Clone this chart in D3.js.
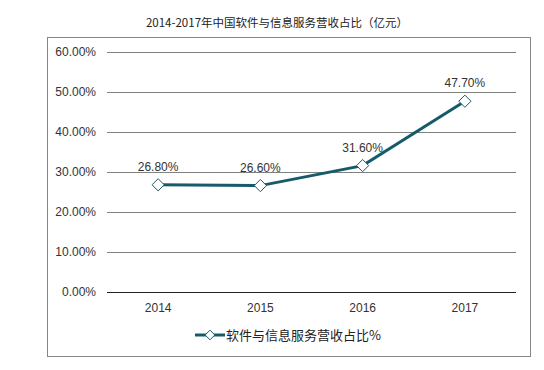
<!DOCTYPE html>
<html>
<head>
<meta charset="utf-8">
<script src="https://cdn.jsdelivr.net/npm/d3@7"></script>
<style>
html, body { margin: 0; padding: 0; background: #fff; }
svg { display: block; }
.tick text { font-family: "Liberation Sans", Arial, sans-serif; font-size: 12px; fill: #333; }
</style>
</head>
<body>
<script>
let years = ['2014', '2015', '2016', '2017'];
let shares = [26.8, 26.6, 31.6, 47.7];
let yTicks = [0, 10, 20, 30, 40, 50, 60];
let seriesName = '软件与信息服务营收占比%';
let title = '2014-2017年中国软件与信息服务营收占比（亿元）';

let width = 544, height = 370;
let margin = {top: 52, right: 28, bottom: 78, left: 107};
let lineColor = '#175b6b';

let svg = d3.select('body').append('svg').attr('width', width).attr('height', height);

// outer frame
svg.append('rect').attr('x', 47.5).attr('y', 37.5).attr('width', 483).attr('height', 319)
    .attr('fill', 'none').attr('stroke', '#868686').attr('stroke-width', 1);

svg.append('text').attr('x', 277).attr('y', 27).attr('text-anchor', 'middle')
    .style('font-family', '"Noto Sans CJK SC", sans-serif').style('font-size', '11.5px')
    .style('font-weight', 400).style('fill', '#222')
    .text(title);

let x = d3.scaleBand().domain(years).range([margin.left, width - margin.right]);
let y = d3.scaleLinear().domain([0, 60]).range([height - margin.bottom, margin.top]);

// gridlines
svg.append('g').selectAll('line').data(yTicks).enter().append('line')
    .attr('x1', margin.left).attr('x2', width - margin.right)
    .attr('y1', d => Math.round(y(d)) + 0.5).attr('y2', d => Math.round(y(d)) + 0.5)
    .attr('stroke', d => d === 0 ? '#222' : '#808080').attr('stroke-width', 1);

let yAxis = d3.axisLeft(y).tickValues(yTicks).tickFormat(d => d.toFixed(2) + '%').tickSize(0).tickPadding(11);
svg.append('g').attr('transform', 'translate(' + margin.left + ',0)').call(yAxis)
    .call(g => g.select('.domain').remove());

let xAxis = d3.axisBottom(x).tickSize(0).tickPadding(11);
svg.append('g').attr('transform', 'translate(0,' + (height - margin.bottom) + ')').call(xAxis)
    .call(g => g.select('.domain').remove());

let cx = d => x(d) + x.bandwidth() / 2;
let data = years.map((yr, i) => ({year: yr, v: shares[i]}));

svg.append('path').datum(data)
    .attr('d', d3.line().x(d => cx(d.year)).y(d => y(d.v)))
    .attr('fill', 'none').attr('stroke', lineColor).attr('stroke-width', 3);

let diamond = d3.symbol().type(d3.symbolDiamond2).size(95);
svg.append('g').selectAll('path').data(data).enter().append('path')
    .attr('d', diamond)
    .attr('transform', d => 'translate(' + cx(d.year) + ',' + y(d.v) + ')')
    .attr('fill', '#fff').attr('stroke', lineColor).attr('stroke-width', 1);

svg.append('g').selectAll('text').data(data).enter().append('text')
    .attr('x', d => cx(d.year)).attr('y', d => y(d.v) - 14)
    .attr('text-anchor', 'middle')
    .style('font-family', '"Liberation Sans", Arial, sans-serif').style('font-size', '12px').style('fill', '#333')
    .text(d => d.v.toFixed(2) + '%');

// legend
let lg = svg.append('g').attr('transform', 'translate(195,335)');
lg.append('line').attr('x1', 0).attr('x2', 30).attr('y1', 0).attr('y2', 0)
    .attr('stroke', lineColor).attr('stroke-width', 3);
lg.append('path').attr('d', d3.symbol().type(d3.symbolDiamond2).size(60))
    .attr('transform', 'translate(15,0)').attr('fill', '#fff').attr('stroke', lineColor);
lg.append('text').attr('x', 31).attr('y', 0).attr('dy', '0.35em')
    .style('font-family', '"Noto Sans CJK SC", sans-serif').style('font-size', '13px').style('fill', '#222')
    .text(seriesName);
</script>
</body>
</html>
